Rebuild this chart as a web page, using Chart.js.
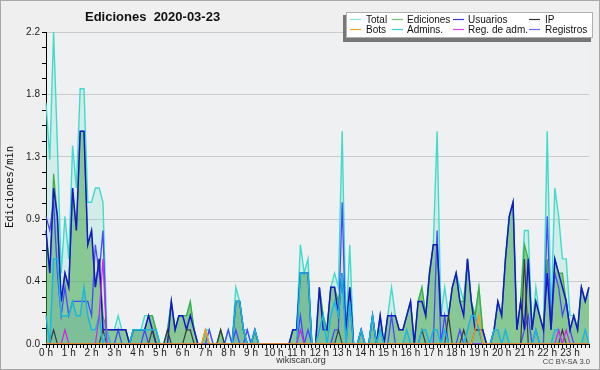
<!DOCTYPE html>
<html><head><meta charset="utf-8">
<script src="https://cdn.jsdelivr.net/npm/chart.js@4.4.1/dist/chart.umd.min.js"></script>
<style>html,body{margin:0;padding:0;background:#efefef;}#wrap{width:600px;height:370px;}</style>
</head><body><div id="wrap"><canvas id="c" width="600" height="370"></canvas></div>
<script>
const titleText = "Ediciones  2020-03-23";
const yTitle = "Ediciones/min";
const hourLabels = ["0 h","1 h","2 h","3 h","4 h","5 h","6 h","7 h","8 h","9 h","10 h","11 h","12 h","13 h","14 h","15 h","16 h","17 h","18 h","19 h","20 h","21 h","22 h","23 h"];
const slotLabels = ["00","10","20","30","40","50"];
const seriesLabels = ["Total","Ediciones","Usuarios","IP","Bots","Admins.","Reg. de adm.","Registros"];

const total = [
1.7,1.3,2.2,1.4,0.5,0.9, 0.6,1.4,1.1,1.8,1.8,1.0, 1.0,1.1,1.1,1.0,0.1,0.1, 0.1,0.2,0.1,0.1,0,0.1,
0.1,0.1,0.2,0.2,0.2,0.1, 0,0,0.1,0.3,0.1,0.2, 0.2,0.2,0.3,0.1,0,0, 0.1,0.1,0,0,0.1,0,
0.1,0,0.4,0.3,0.1,0.1, 0,0.1,0,0,0,0, 0,0,0,0,0,0.1, 0.1,0.7,0.5,0.6,0,0,
0.4,0.2,0.1,0.4,0.5,0.4, 1.5,0.1,0.7,0,0,0.1, 0,0,0.2,0,0.2,0, 0.2,0.4,0.2,0.1,0.1,0.2,
0.3,0,0.3,0.4,0.2,0.5, 0.7,1.5,0.2,0.4,0.2,0.4, 0.5,0.4,0.3,0.6,0.3,0.2, 0.4,0.1,0,0,0.1,0.3,
0.2,0.6,0.9,1.0,0.1,0.3, 0.8,0.8,0.1,0.4,0.2,0.1, 1.5,0.2,1.1,0.9,0.6,0.6, 0.2,0.2,0.1,0.4,0.3,0.4];
const ediciones = [
0.8,0.5,1.2,0.9,0.3,0.5, 0.4,1.1,0.8,1.5,1.5,0.7, 0.8,0.4,0.6,0.2,0.1,0.1, 0.1,0.1,0.1,0.1,0,0.1,
0.1,0.1,0.1,0.2,0.2,0.1, 0,0,0.1,0.3,0.1,0.2, 0.2,0.2,0.3,0.1,0,0, 0.1,0,0,0,0.1,0,
0,0,0.3,0.3,0.1,0, 0,0.1,0,0,0,0, 0,0,0,0,0,0.1, 0.1,0.5,0.5,0.5,0,0,
0.4,0.2,0.1,0.4,0.4,0.3, 0.5,0.1,0.4,0,0,0.1, 0,0,0.2,0,0.2,0, 0.2,0.2,0.2,0.1,0.1,0.2,
0.3,0,0.3,0.4,0.2,0.5, 0.7,0.7,0.2,0.2,0.2,0.4, 0.5,0.3,0.3,0.6,0.3,0.2, 0.4,0.1,0,0,0.1,0.3,
0.2,0.6,0.9,1.0,0.1,0.3, 0.7,0.6,0.1,0.3,0.2,0.1, 0.6,0.1,0.6,0.5,0.5,0.3, 0.1,0.2,0.1,0.4,0.3,0.4];
const usuarios = [
0.8,0.5,1.1,0.9,0.3,0.5, 0.4,1.1,0.8,1.5,1.5,0.7, 0.8,0.4,0.6,0.1,0.1,0.1, 0.1,0.1,0.1,0.1,0,0.1,
0.1,0.1,0.1,0.2,0.1,0, 0,0,0,0.3,0.1,0.2, 0.2,0.1,0.2,0.1,0,0, 0,0,0,0,0,0,
0,0,0.3,0.3,0.1,0, 0,0.1,0,0,0,0, 0,0,0,0,0,0.1, 0.1,0.5,0.5,0.5,0,0,
0.4,0.1,0.1,0.4,0.4,0.2, 0.5,0.1,0.4,0,0,0.1, 0,0,0.2,0,0.2,0, 0.2,0.2,0.2,0.1,0.1,0.2,
0.3,0,0.3,0.3,0.2,0.5, 0.7,0.7,0.2,0.2,0.2,0.4, 0.5,0.3,0.2,0.6,0.3,0.1, 0.1,0.1,0,0,0.1,0.3,
0.2,0.6,0.9,1.0,0.1,0.3, 0.1,0.6,0.1,0.3,0.2,0.1, 0.5,0.1,0.6,0.5,0.4,0.3, 0.1,0.2,0.1,0.4,0.3,0.4];
const ip = [
0,0,0.1,0,0,0, 0,0,0,0,0,0, 0,0,0,0.1,0,0, 0,0,0,0,0,0,
0,0,0,0,0.1,0, 0,0,0.1,0,0,0, 0,0.1,0.1,0,0,0, 0,0,0,0,0.1,0,
0,0,0,0,0,0, 0,0,0,0,0,0, 0,0,0,0,0,0, 0,0,0,0,0,0,
0,0,0,0,0,0.1, 0,0,0,0,0,0, 0,0,0,0,0,0, 0,0,0,0,0,0,
0,0,0,0.1,0,0, 0,0,0,0,0.2,0, 0,0,0.1,0,0,0.1, 0.1,0,0,0,0,0,
0,0,0,0,0,0, 0.6,0,0,0,0,0, 0,0,0,0,0.1,0, 0,0,0,0,0,0];
const bots = [
0,0,0,0,0,0, 0,0,0,0,0,0, 0,0,0,0,0,0, 0,0,0,0,0,0,
0,0,0,0,0,0, 0,0,0,0,0,0, 0,0,0,0,0,0, 0.1,0,0,0,0,0,
0,0,0,0,0,0, 0,0,0,0,0,0, 0,0,0,0,0,0, 0,0,0,0,0,0,
0,0,0,0,0,0, 0,0,0,0,0,0, 0,0,0,0,0,0, 0,0,0,0,0,0,
0,0,0,0,0,0, 0,0,0,0,0,0, 0,0,0,0,0,0.1, 0.2,0,0,0,0,0,
0,0,0,0,0,0, 0,0,0,0,0,0, 0,0,0,0,0,0, 0,0,0,0,0,0];
const admins = [
0.2,0,0.6,0.6,0.2,0.2, 0.2,0.3,0.2,0.2,0.4,0.2, 0.1,0.1,0.2,0,0.1,0, 0,0,0,0,0,0.1,
0.1,0.1,0.1,0.1,0.1,0.1, 0,0,0,0,0,0, 0,0,0,0,0,0, 0,0,0,0,0,0,
0,0,0.3,0.3,0.1,0, 0,0.1,0,0,0,0, 0,0,0,0,0,0, 0,0.5,0.5,0.5,0,0,
0.1,0.2,0,0.2,0.3,0.2, 0.5,0,0.3,0,0,0.1, 0,0,0.2,0,0.1,0, 0,0,0,0,0,0.1,
0,0,0,0.1,0.1,0, 0.1,0.1,0,0.1,0,0, 0,0,0,0.1,0.2,0.2, 0.1,0,0,0,0.1,0.1,
0,0.1,0,0,0,0, 0,0,0,0.1,0,0, 0,0,0.1,0.1,0,0, 0,0,0,0,0.1,0];
const regAdm = [
0,0,0,0,0,0.1, 0,0,0,0,0,0, 0,0,0.2,0.6,0,0, 0,0,0,0,0,0,
0,0,0,0,0,0, 0,0,0,0,0,0, 0,0,0,0,0,0, 0,0,0,0,0,0,
0,0,0,0,0,0, 0,0,0,0,0,0, 0,0,0,0,0,0, 0,0.1,0,0,0,0,
0,0,0,0,0,0, 0,0,0,0,0,0, 0,0,0,0,0,0, 0,0,0,0,0,0,
0,0,0,0,0,0, 0,0,0,0,0,0, 0,0,0,0,0,0, 0,0,0,0,0,0,
0,0,0,0,0,0, 0,0,0,0,0,0, 0,0,0,0.1,0,0.1, 0,0,0,0,0,0];
const registros = [
0.9,0.8,1.0,0.5,0.2,0.4, 0.2,0.3,0.3,0.3,0.3,0.3, 0.2,0.7,0.5,0.8,0,0, 0,0.1,0,0,0,0,
0,0,0.1,0,0,0, 0,0,0,0,0,0, 0,0,0,0,0,0, 0,0.1,0,0,0,0,
0.1,0,0.1,0,0,0.1, 0,0,0,0,0,0, 0,0,0,0,0,0, 0,0.2,0,0.1,0,0,
0,0,0,0,0.1,0.1, 1.0,0,0.3,0,0,0, 0,0,0,0,0,0, 0,0.2,0,0,0,0,
0,0,0,0,0,0, 0,0.8,0,0.2,0,0, 0,0.1,0,0,0,0, 0,0,0,0,0,0,
0,0,0,0,0,0, 0.1,0.2,0,0.1,0,0, 0.9,0.1,0.5,0.4,0.2,0.3, 0.1,0,0,0,0,0];

const categories = [];
hourLabels.forEach(h => slotLabels.forEach(m => categories.push(h.replace(' h','') + ':' + m)));

const lineColors = {
  total:'#40dbcb', ediciones:'#3cae3c', usuarios:'#1616cc', ip:'#3a3a3a',
  bots:'#ff9a10', admins:'#1cb6e0', regAdm:'#d224e2', registros:'#4848ff'
};
const legendColors = ['#86e3da','#6cc96c','#3a3ae0','#333333','#ffa030','#38cfe6','#e040f0','#6a6aff'];

function ds(label, data, color, width, order, fill, bg) {
  return {label, data, borderColor: color, borderWidth: width, pointRadius: 0, tension: 0,
          order, fill: fill ? 'origin' : false, backgroundColor: bg || 'transparent'};
}

const decor = {
  id: 'decor',
  beforeDraw(chart) {
    const {ctx, chartArea: a} = chart;
    ctx.save();
    ctx.fillStyle = '#efefef';
    ctx.fillRect(0, 0, chart.width, chart.height);
    ctx.fillStyle = '#eef0f2';
    ctx.fillRect(a.left, a.top, a.right - a.left, a.bottom - a.top);
    ctx.restore();
  },
  afterDraw(chart) {
    const ctx = chart.ctx;
    ctx.save();
    ctx.fillStyle = '#111';
    ctx.font = 'bold 13px "Liberation Sans", Arial, sans-serif';
    ctx.textBaseline = 'middle';
    ctx.textAlign = 'left';
    ctx.fillText(titleText, 85, 17);
    ctx.save();
    ctx.translate(10, 187);
    ctx.rotate(-Math.PI / 2);
    ctx.textAlign = 'center';
    ctx.font = '10.5px "DejaVu Sans Mono", monospace';
    ctx.fillStyle = '#111';
    ctx.fillText(yTitle, 0, 0);
    ctx.restore();
    ctx.font = '9px "Liberation Sans", Arial, sans-serif';
    ctx.fillStyle = '#333';
    ctx.textAlign = 'center';
    ctx.fillText('wikiscan.org', 301, 361);
    ctx.font = '7.5px "Liberation Sans", Arial, sans-serif';
    ctx.textAlign = 'right';
    ctx.fillStyle = '#444';
    ctx.fillText('CC BY-SA 3.0', 590, 362);
    ctx.fillStyle = '#777';
    ctx.fillRect(343, 15, 248, 27);
    ctx.fillStyle = '#ffffff';
    ctx.fillRect(346, 12, 247, 26);
    ctx.strokeStyle = '#b0b0b0';
    ctx.lineWidth = 1;
    ctx.strokeRect(346.5, 12.5, 246, 25);
    const colsLine = [350, 392, 453, 529];
    const colsText = [366, 407, 468, 545];
    const rows = [19, 29];
    ctx.font = '10px "Liberation Sans", Arial, sans-serif';
    ctx.textAlign = 'left';
    ctx.textBaseline = 'middle';
    seriesLabels.forEach((lab, k) => {
      const r = Math.floor(k / 4), c = k % 4;
      ctx.strokeStyle = legendColors[k];
      ctx.lineWidth = 1.2;
      ctx.beginPath();
      ctx.moveTo(colsLine[c], rows[r] + 0.5);
      ctx.lineTo(colsLine[c] + 11, rows[r] + 0.5);
      ctx.stroke();
      ctx.fillStyle = '#111';
      ctx.fillText(lab, colsText[c], rows[r] + 1);
    });
    ctx.strokeStyle = '#a8a8a8';
    ctx.lineWidth = 1;
    ctx.strokeRect(0.5, 0.5, chart.width - 1, chart.height - 1);
    ctx.restore();
  }
};

const isMajor = v => Math.abs(v / 0.44 - Math.round(v / 0.44)) < 1e-6;

new Chart(document.getElementById('c'), {
  type: 'line',
  data: {
    labels: categories,
    datasets: [
      ds(seriesLabels[0], total, lineColors.total, 1.4, 10, true, 'rgba(70,215,195,0.16)'),
      ds(seriesLabels[1], ediciones, lineColors.ediciones, 1.2, 9, true, 'rgba(55,160,55,0.48)'),
      ds(seriesLabels[7], registros, lineColors.registros, 1.3, 7, false),
      ds(seriesLabels[2], usuarios, lineColors.usuarios, 1.5, 6, false),
      ds(seriesLabels[3], ip, lineColors.ip, 1.2, 5, false),
      ds(seriesLabels[5], admins, lineColors.admins, 1.5, 4, true, 'rgba(30,120,200,0.10)'),
      ds(seriesLabels[6], regAdm, lineColors.regAdm, 1.2, 3, false),
      ds(seriesLabels[4], bots, lineColors.bots, 1.3, 2, false)
    ]
  },
  options: {
    responsive: false,
    animation: false,
    devicePixelRatio: 1,
    layout: {padding: {left: 0, right: 11, top: 32, bottom: 0}},
    plugins: {legend: {display: false}, tooltip: {enabled: false}, title: {display: false}},
    scales: {
      x: {
        type: 'category',
        offset: false,
        afterFit: s => { s.height = 26; },
        grid: {display: true, drawOnChartArea: false, drawTicks: true, tickLength: 4, color: '#000', tickColor: '#000'},
        border: {display: true, color: '#000', width: 1},
        ticks: {
          autoSkip: false, maxRotation: 0, minRotation: 0, padding: -1,
          color: '#222', font: {family: '"Liberation Sans", Arial, sans-serif', size: 10},
          callback: (v, i) => (i % 6 === 0 ? hourLabels[i / 6] : '')
        }
      },
      y: {
        min: 0, max: 2.2,
        afterFit: s => { s.width = 46; },
        grid: {
          drawTicks: true, tickLength: 4,
          color: c => (isMajor(c.tick.value) ? '#cbcbcb' : 'rgba(0,0,0,0)'),
          tickColor: '#000'
        },
        border: {display: true, color: '#000', width: 1},
        ticks: {
          stepSize: 0.11, maxTicksLimit: 100, autoSkip: false, padding: 2,
          color: '#222', font: {family: '"Liberation Sans", Arial, sans-serif', size: 10},
          callback: v => (isMajor(v) ? Number(v).toFixed(1) : '')
        }
      }
    }
  },
  plugins: [decor]
});
</script></body></html>
